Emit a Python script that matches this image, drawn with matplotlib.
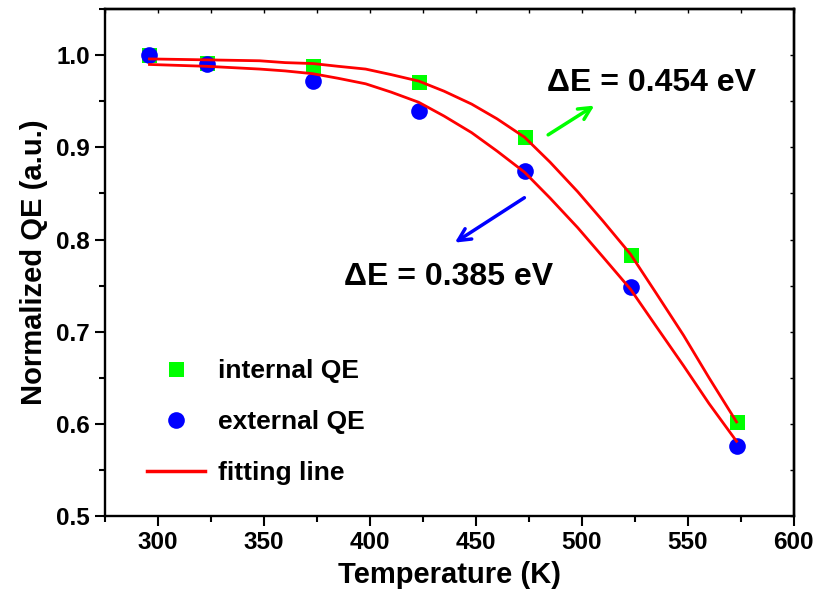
import matplotlib
matplotlib.use('Agg')
import matplotlib.pyplot as plt
from matplotlib.ticker import MultipleLocator

# measured points
temp = [296, 323, 373, 423, 473, 523, 573]
qe_int = [1.000, 0.992, 0.988, 0.971, 0.911, 0.783, 0.602]
qe_ext = [1.000, 0.990, 0.972, 0.940, 0.874, 0.748, 0.576]

# fitting curves
fit_T = [296, 323, 348, 360, 373, 385, 398, 410, 423, 435, 448, 460, 473,
         485, 498, 510, 523, 535, 548, 560, 573]
fit_int = [0.996, 0.995, 0.994, 0.992, 0.991, 0.988, 0.985, 0.979, 0.972, 0.961,
           0.947, 0.931, 0.911, 0.884, 0.852, 0.820, 0.784, 0.742, 0.696, 0.650, 0.602]
fit_ext = [0.990, 0.988, 0.985, 0.983, 0.980, 0.975, 0.969, 0.960, 0.949, 0.934,
           0.916, 0.896, 0.873, 0.845, 0.813, 0.781, 0.746, 0.706, 0.663, 0.622, 0.581]

plt.rcParams['font.family'] = ['Liberation Sans', 'DejaVu Sans']
plt.rcParams['font.weight'] = 'bold'

fig = plt.figure(figsize=(8.2, 6.12), dpi=100)
ax = fig.add_axes([0.128, 0.157, 0.840, 0.828])

ax.plot(fit_T, fit_int, color='#ff0000', lw=2, zorder=3)
ax.plot(fit_T, fit_ext, color='#ff0000', lw=2, zorder=3)
ax.plot(temp, qe_int, 's', color='#00ff00', ms=10.8, mew=0, zorder=2, label='internal QE')
ax.plot(temp, qe_ext, 'o', color='#0000ff', ms=12, mew=0, zorder=2, label='external QE')
# dummy handle for the legend entry of the fit
ax.plot([], [], color='#ff0000', lw=2.5, label='fitting line')

ax.set_xlim(275, 600)
ax.set_ylim(0.5, 1.05)
ax.xaxis.set_major_locator(MultipleLocator(50))
ax.xaxis.set_minor_locator(MultipleLocator(25))
ax.yaxis.set_major_locator(MultipleLocator(0.1))
ax.yaxis.set_minor_locator(MultipleLocator(0.05))
ax.yaxis.set_major_formatter(plt.FuncFormatter(lambda v, p: '%.1f' % v))

for s in ax.spines.values():
    s.set_linewidth(1.7)
ax.tick_params(which='major', direction='out', length=7, width=1.5, labelsize=17.5, pad=4)
ax.tick_params(which='minor', direction='out', length=4, width=1.5)

# mirrored ticks inside on top and right
top = ax.secondary_xaxis('top')
top.xaxis.set_major_locator(MultipleLocator(25))
top.tick_params(direction='in', length=3, width=1, labeltop=False)
top.spines['top'].set_linewidth(1.7)
right = ax.secondary_yaxis('right')
right.yaxis.set_major_locator(MultipleLocator(0.05))
right.tick_params(direction='in', length=3, width=1, labelright=False)
right.spines['right'].set_linewidth(1.7)

ax.set_xlabel('Temperature (K)', fontsize=21, fontweight='bold', labelpad=5)
ax.set_ylabel('Normalized QE (a.u.)', fontsize=21, fontweight='bold', labelpad=6)

ax.text(533, 0.970, '\u0394E = 0.454 eV', fontsize=23, fontweight='bold', ha='center', va='center')
ax.text(437, 0.759, '\u0394E = 0.385 eV', fontsize=23, fontweight='bold', ha='center', va='center')

ax.annotate('', xy=(507, 0.947), xytext=(483, 0.912),
            arrowprops=dict(arrowstyle='->', color='#00ff00', lw=2.5, mutation_scale=22))
ax.annotate('', xy=(439, 0.795), xytext=(474, 0.847),
            arrowprops=dict(arrowstyle='->', color='#0000ff', lw=2.5, mutation_scale=22))

leg = ax.legend(loc='upper left', bbox_to_anchor=(0.045, 0.33), frameon=False,
                fontsize=19, handlelength=2.2, handletextpad=0.5, labelspacing=1.02,
                borderaxespad=0)
for t in leg.get_texts():
    t.set_fontweight('bold')

fig.savefig('out.png', dpi=100)
